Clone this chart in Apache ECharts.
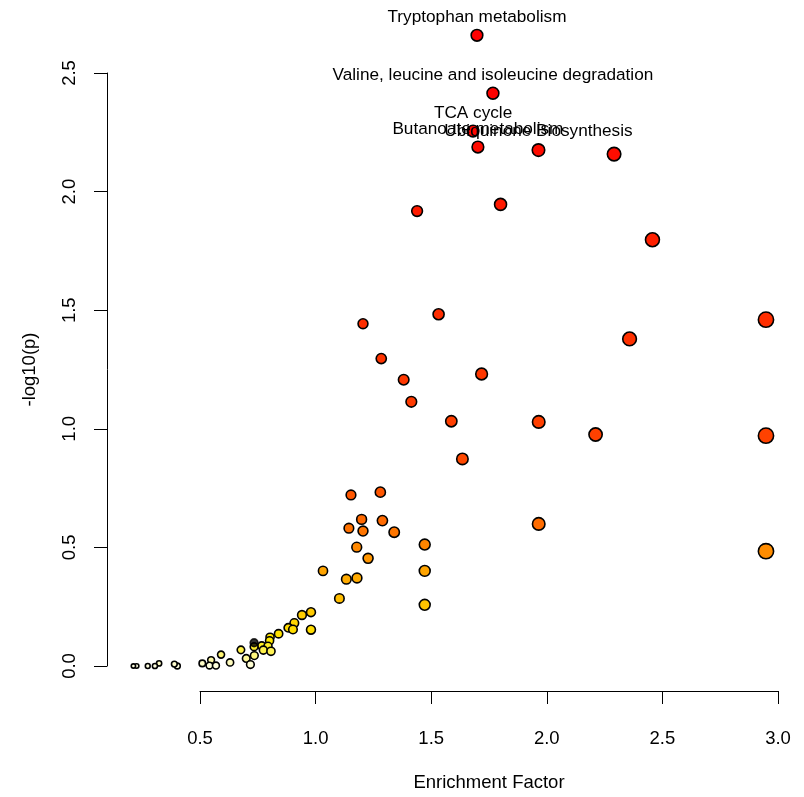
<!DOCTYPE html>
<html>
<head>
<meta charset="utf-8">
<script src="https://cdn.jsdelivr.net/npm/echarts@6/dist/echarts.min.js"></script>
<style>html,body{margin:0;padding:0;background:#fff}#chart{width:804px;height:797px}</style>
</head>
<body>
<div id="chart"></div>
<script>
// Enrichment factor (x) and -log10(p) (y) for each pathway
const enrichment = [1.698,1.767,1.681,1.702,1.964,2.291,1.439,1.800,2.457,1.205,1.532,2.948,2.358,1.284,1.381,1.718,1.414,1.587,1.965,2.211,2.948,1.635,1.153,1.280,1.199,1.289,1.144,1.205,1.340,1.965,1.178,1.472,1.227,2.948,1.032,1.472,1.133,1.179,1.103,1.472,0.980,0.941,0.980,0.908,0.882,0.902,0.840,0.803,0.801,0.767,0.734,0.794,0.774,0.807,0.677,0.735,0.700,0.718,0.591,0.630,0.548,0.510,0.541,0.569,0.402,0.389,0.323,0.305,0.274,0.226,0.212];
const neglogp = [2.659,2.415,2.255,2.188,2.175,2.158,1.918,1.946,1.797,1.443,1.483,1.460,1.379,1.296,1.207,1.231,1.114,1.032,1.029,0.976,0.971,0.873,0.721,0.733,0.618,0.613,0.581,0.569,0.564,0.599,0.501,0.512,0.454,0.484,0.401,0.401,0.366,0.371,0.285,0.258,0.227,0.215,0.153,0.181,0.161,0.154,0.136,0.121,0.106,0.085,0.081,0.083,0.067,0.062,0.068,0.044,0.032,0.006,0.048,0.015,0.025,0.011,0.002,0.002,0.000,0.008,0.011,0.000,0.000,0.000,0.000];
const pathwayLabels = ["Tryptophan metabolism","Valine, leucine and isoleucine degradation","TCA cycle","Butanoate metabolism","Ubiquinone Biosynthesis"];
// one point drawn in black
const blackEnrichment = [0.734];
const blackNeglogp = [0.098];
// axis ticks
const xTicks = [0.5, 1.0, 1.5, 2.0, 2.5, 3.0];
const yTicks = [0.0, 0.5, 1.0, 1.5, 2.0, 2.5];

const mainData = enrichment.map((x, i) => [x, neglogp[i], pathwayLabels[i] || ""]);
const blackData = blackEnrichment.map((x, i) => [x, blackNeglogp[i], ""]);

const FONT = "'Liberation Sans', Arial, sans-serif";
const sizeOf = v => 8.7 * Math.sqrt(v[0]) + 0.3;

const chart = echarts.init(document.getElementById('chart'), null, {renderer: 'canvas'});
chart.setOption({
  backgroundColor: '#ffffff',
  animation: false,
  grid: {left: 200, right: 26, top: 73, bottom: 130, containLabel: false},
  xAxis: {
    type: 'value', min: xTicks[0], max: xTicks[xTicks.length - 1], interval: 0.5,
    offset: 25,
    axisLine: {show: true, onZero: false, lineStyle: {color: '#000', width: 1}},
    axisTick: {show: true, length: 13, lineStyle: {color: '#000', width: 1}},
    axisLabel: {color: '#000', fontFamily: FONT, fontSize: 18.5, margin: 38,
      formatter: v => v.toFixed(1)},
    splitLine: {show: false},
    name: 'Enrichment Factor', nameLocation: 'middle', nameGap: 82,
    nameTextStyle: {color: '#000', fontFamily: FONT, fontSize: 18.5}
  },
  yAxis: {
    type: 'value', min: yTicks[0], max: yTicks[yTicks.length - 1], interval: 0.5,
    offset: 93,
    axisLine: {show: true, onZero: false, lineStyle: {color: '#000', width: 1}},
    axisTick: {show: true, length: 13, lineStyle: {color: '#000', width: 1}},
    axisLabel: {color: '#000', fontFamily: FONT, fontSize: 18.5, margin: 28, rotate: 90,
      formatter: v => v.toFixed(1)},
    splitLine: {show: false},
    name: '-log10(p)', nameLocation: 'middle', nameGap: 68, nameRotate: 90,
    nameTextStyle: {color: '#000', fontFamily: FONT, fontSize: 18.5}
  },
  visualMap: [{
    show: false, type: 'continuous', seriesIndex: 0, dimension: 1, min: 0, max: 2.7,
    inRange: {color: ['#FFFFE0','#FFEA00','#FFD000','#FFBA00','#FFA400','#FF8800','#FF6C00','#FF5A00','#FF4E00','#FF4600','#FF4000','#FF3C00','#FF3800','#FF3400','#FF3000','#FF2C00','#FF2800','#FF2400','#FF2000','#FF1C00','#FF1600','#FF1000','#FF0A00','#FF0500','#FF0200','#FF0000','#FF0000','#FF0000']}
  }],
  series: [{
    type: 'scatter', clip: false, data: mainData,
    symbolSize: sizeOf,
    itemStyle: {borderColor: '#000', borderWidth: 1.6, opacity: 1},
    label: {show: true, position: 'top', distance: 3, color: '#000',
      fontFamily: FONT, fontSize: 17.2, formatter: p => p.value[2]},
    labelLayout: {hideOverlap: false},
    z: 2
  }, {
    type: 'scatter', clip: false, data: blackData,
    symbolSize: sizeOf,
    itemStyle: {color: '#000', borderColor: '#000', borderWidth: 1.6},
    z: 3
  }]
});
</script>
</body>
</html>
